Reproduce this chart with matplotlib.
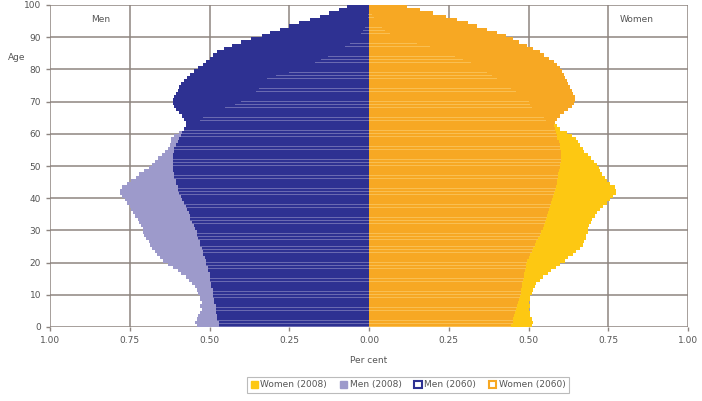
import matplotlib
matplotlib.use("Agg")
import matplotlib.pyplot as plt
import numpy as np
from matplotlib.patches import Patch

ages = list(range(0, 100))

men_2008 = [0.54, 0.545, 0.54, 0.535, 0.53, 0.525, 0.53, 0.525, 0.53, 0.53,
            0.535, 0.54, 0.545, 0.555, 0.565, 0.575, 0.59, 0.60, 0.615, 0.63,
            0.645, 0.655, 0.665, 0.67, 0.68, 0.685, 0.69, 0.70, 0.705, 0.71,
            0.71, 0.715, 0.72, 0.725, 0.735, 0.74, 0.745, 0.75, 0.76, 0.765,
            0.775, 0.78, 0.78, 0.775, 0.76, 0.745, 0.73, 0.72, 0.705, 0.69,
            0.68, 0.67, 0.66, 0.65, 0.64, 0.63, 0.625, 0.62, 0.62, 0.61,
            0.595, 0.58, 0.57, 0.55, 0.53, 0.52, 0.50, 0.47, 0.45, 0.42,
            0.40, 0.385, 0.37, 0.355, 0.345, 0.335, 0.325, 0.32, 0.29, 0.25,
            0.215, 0.19, 0.17, 0.15, 0.13, 0.11, 0.09, 0.075, 0.06, 0.045,
            0.035, 0.025, 0.018, 0.013, 0.009, 0.006, 0.004, 0.003, 0.002, 0.001]

men_2060 = [0.47, 0.47, 0.475, 0.475, 0.48, 0.48, 0.48, 0.485, 0.485, 0.49,
            0.49, 0.49, 0.495, 0.495, 0.50, 0.50, 0.50, 0.505, 0.505, 0.51,
            0.51, 0.515, 0.52, 0.52, 0.525, 0.53, 0.53, 0.535, 0.54, 0.54,
            0.545, 0.55, 0.555, 0.56, 0.56, 0.565, 0.57, 0.575, 0.58, 0.585,
            0.59, 0.595, 0.60, 0.60, 0.605, 0.605, 0.61, 0.61, 0.615, 0.615,
            0.615, 0.615, 0.615, 0.615, 0.61, 0.61, 0.605, 0.60, 0.595, 0.59,
            0.585, 0.58, 0.575, 0.575, 0.58, 0.585, 0.595, 0.605, 0.612, 0.615,
            0.615, 0.61, 0.605, 0.60, 0.595, 0.59, 0.58, 0.57, 0.56, 0.55,
            0.535, 0.52, 0.51, 0.50, 0.49, 0.475, 0.455, 0.43, 0.40, 0.37,
            0.335, 0.31, 0.28, 0.25, 0.22, 0.185, 0.155, 0.125, 0.095, 0.07]

women_2008 = [0.51, 0.515, 0.51, 0.505, 0.505, 0.50, 0.505, 0.50, 0.505, 0.505,
              0.51, 0.515, 0.52, 0.525, 0.535, 0.545, 0.56, 0.57, 0.585, 0.60,
              0.615, 0.625, 0.64, 0.65, 0.66, 0.67, 0.675, 0.68, 0.68, 0.685,
              0.685, 0.69, 0.695, 0.70, 0.71, 0.715, 0.725, 0.735, 0.745, 0.755,
              0.765, 0.775, 0.775, 0.77, 0.755, 0.745, 0.74, 0.73, 0.725, 0.72,
              0.715, 0.705, 0.695, 0.685, 0.675, 0.67, 0.66, 0.655, 0.65, 0.635,
              0.62, 0.60, 0.59, 0.57, 0.555, 0.55, 0.535, 0.52, 0.51, 0.505,
              0.50, 0.49, 0.475, 0.46, 0.445, 0.43, 0.415, 0.40, 0.385, 0.37,
              0.36, 0.34, 0.32, 0.295, 0.27, 0.25, 0.22, 0.19, 0.15, 0.12,
              0.08, 0.065, 0.05, 0.04, 0.03, 0.02, 0.015, 0.01, 0.007, 0.005]

women_2060 = [0.445, 0.45, 0.452, 0.455, 0.458, 0.46, 0.463, 0.466, 0.469, 0.472,
              0.475, 0.477, 0.479, 0.481, 0.483, 0.485, 0.487, 0.489, 0.491, 0.493,
              0.495, 0.50, 0.505, 0.51, 0.515, 0.52, 0.525, 0.53, 0.535, 0.54,
              0.545, 0.548, 0.551, 0.554, 0.557, 0.56, 0.564, 0.567, 0.57, 0.574,
              0.577, 0.58, 0.583, 0.585, 0.588, 0.59, 0.592, 0.594, 0.596, 0.598,
              0.60, 0.601, 0.602, 0.602, 0.601, 0.60, 0.598, 0.595, 0.59, 0.588,
              0.585, 0.582, 0.58, 0.582, 0.59, 0.60, 0.612, 0.624, 0.635, 0.642,
              0.645, 0.645, 0.64, 0.635, 0.63, 0.625, 0.62, 0.615, 0.61, 0.605,
              0.60, 0.59, 0.58, 0.565, 0.55, 0.535, 0.515, 0.495, 0.47, 0.45,
              0.43, 0.40, 0.37, 0.34, 0.31, 0.275, 0.24, 0.20, 0.16, 0.12]

x_ticks = [-1.0, -0.75, -0.5, -0.25, 0.0, 0.25, 0.5, 0.75, 1.0]
x_labels = ["1.00", "0.75", "0.50", "0.25", "0.00", "0.25", "0.50", "0.75", "1.00"]
y_ticks = list(range(0, 101, 10))

c_m08 = "#9D9ACB"
c_m60 = "#2E3192"
c_w08 = "#FDC812"
c_w60 = "#F7A823"
grid_c = "#8E8580"
txt_c = "#555555"

fig = plt.figure(figsize=(7.02, 4.01), dpi=100)
ax = fig.add_axes([50/702, 1-327/401, (688-50)/702, (327-5)/401])

y = np.array(ages, dtype=float)
m08 = np.array(men_2008)
m60 = np.array(men_2060)
w08 = np.array(women_2008)
w60 = np.array(women_2060)

# 2008 profiles behind
ax.barh(y, -m08, height=1.0, align="edge", color=c_m08, linewidth=0, zorder=2)
ax.barh(y, w08, height=1.0, align="edge", color=c_w08, linewidth=0, zorder=2)
# 2060 profiles in front
ax.barh(y, -m60, height=1.0, align="edge", color=c_m60, linewidth=0, zorder=3)
ax.barh(y, w60, height=1.0, align="edge", color=c_w60, linewidth=0, zorder=3)
# 2008 showing through thin gaps between 2060 bars
ax.barh(y, -np.minimum(m08, m60), height=0.18, align="edge", color=c_m08, alpha=0.55,
        linewidth=0, zorder=4)
ax.barh(y, np.minimum(w08, w60), height=0.18, align="edge", color="#FBD27A", alpha=0.55,
        linewidth=0, zorder=4)

ax.set_xlim(-1, 1)
ax.set_ylim(0, 100)
ax.set_xticks(x_ticks)
ax.set_xticklabels(x_labels)
ax.set_yticks(y_ticks)
ax.grid(True, color=grid_c, linewidth=1.1, zorder=1)
ax.set_axisbelow(True)
for s in ax.spines.values():
    s.set_visible(False)
ax.tick_params(axis="both", colors=grid_c, labelcolor=txt_c, labelsize=6.5, length=3, width=1)

ax.text(-0.84, 95.5, "Men", fontsize=6.5, color=txt_c, ha="center", va="center")
ax.text(0.84, 95.5, "Women", fontsize=6.5, color=txt_c, ha="center", va="center")
fig.text(17/702, 1-57/401, "Age", fontsize=6.5, color=txt_c, ha="center", va="center")
ax.set_xlabel("Per cent", fontsize=6.5, color=txt_c, labelpad=8)

handles = [Patch(facecolor=c_w08, edgecolor=c_w08, label="Women (2008)"),
           Patch(facecolor=c_m08, edgecolor=c_m08, label="Men (2008)"),
           Patch(facecolor="white", edgecolor=c_m60, linewidth=1.5, label="Men (2060)"),
           Patch(facecolor="white", edgecolor=c_w60, linewidth=1.5, label="Women (2060)")]
leg = fig.legend(handles=handles, loc="center", bbox_to_anchor=(408/702, 1-385/401), ncol=4,
                 fontsize=6.5, frameon=True, fancybox=False, handlelength=0.8, handleheight=0.8,
                 handletextpad=0.3, columnspacing=1.4, borderpad=0.35, labelcolor=txt_c)
leg.get_frame().set_edgecolor("#AAAAAA")
leg.get_frame().set_linewidth(0.8)

fig.savefig("out.png", dpi=100)
